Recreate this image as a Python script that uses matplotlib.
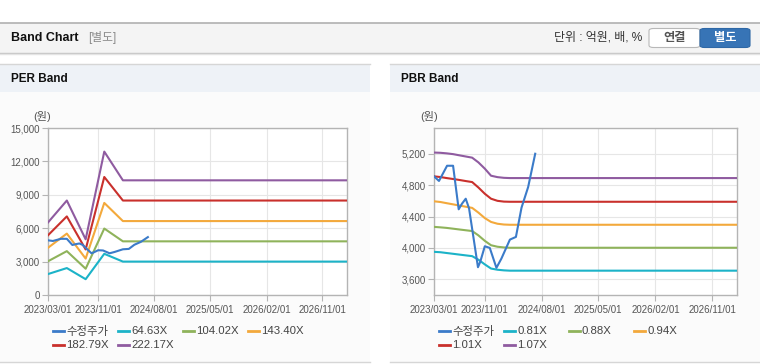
import datetime as dt
import matplotlib
matplotlib.use("Agg")
import matplotlib.pyplot as plt
import matplotlib.dates as mdates
from matplotlib.patches import Rectangle, FancyBboxPatch
from matplotlib.lines import Line2D

plt.rcParams['font.family'] = ['Liberation Sans', 'Noto Sans CJK KR']

def d(s):
    return dt.datetime.strptime(s, "%Y-%m-%d")

# ---- data ----
price_dates = ["2023-03-01", "2023-03-25", "2023-05-03", "2023-06-01", "2023-06-28",
               "2023-07-14", "2023-08-01", "2023-08-17", "2023-09-29", "2023-10-10",
               "2023-11-01", "2023-11-25", "2023-12-27", "2024-01-20", "2024-03-01",
               "2024-03-30", "2024-04-26", "2024-05-28", "2024-07-01"]
price = [4912, 4853, 5047, 5047, 4492, 4564, 4627, 4504, 3754, 3823,
         4021, 4000, 3746, 3864, 4106, 4140, 4513, 4776, 5200]

per_dates = ["2023-03-01", "2023-06-01", "2023-09-01", "2023-12-01", "2024-03-01", "2027-03-01"]
per_labels = ["64.63X", "104.02X", "143.40X", "182.79X", "222.17X"]
per_6463 = [1880, 2420, 1420, 3700, 3000, 3000]
per_10402 = [3030, 3940, 2360, 5970, 4820, 4820]
per_14340 = [4240, 5515, 3270, 8270, 6640, 6640]
per_18279 = [5364, 7060, 4090, 10600, 8485, 8485]
per_22217 = [6515, 8485, 5000, 12880, 10300, 10300]

pbr_dates = ["2023-03-01", "2023-04-01", "2023-05-01", "2023-06-01", "2023-07-01",
             "2023-08-01", "2023-09-01", "2023-10-01", "2023-11-01", "2023-12-01",
             "2024-01-01", "2024-02-01", "2024-03-01", "2027-03-01"]
pbr_labels = ["0.81X", "0.88X", "0.94X", "1.01X", "1.07X"]
pbr_081 = [3950, 3945, 3935, 3925, 3915, 3905, 3895, 3850, 3790, 3737, 3722, 3714, 3710, 3710]
pbr_088 = [4268, 4262, 4255, 4245, 4235, 4225, 4215, 4160, 4090, 4034, 4015, 4006, 4002, 4002]
pbr_094 = [4594, 4585, 4570, 4555, 4540, 4525, 4510, 4450, 4380, 4331, 4308, 4298, 4295, 4295]
pbr_101 = [4912, 4903, 4890, 4878, 4866, 4852, 4839, 4770, 4690, 4627, 4600, 4590, 4588, 4588]
pbr_107 = [5215, 5212, 5205, 5195, 5180, 5165, 5150, 5090, 5010, 4920, 4902, 4893, 4890, 4890]

price_label = "수정주가"
band_colors = ["#1cb3c8", "#8fb35b", "#f3a93c", "#c9302c", "#8f5ba0"]
price_color = "#3b7bc9"

x_ticks = ["2023-03-01", "2023-11-01", "2024-08-01", "2025-05-01", "2026-02-01", "2026-11-01"]
per_yticks = [0, 3000, 6000, 9000, 12000, 15000]
pbr_yticks = [3600, 4000, 4400, 4800, 5200]

W, H = 760, 364
fig = plt.figure(figsize=(W / 100, H / 100), dpi=100)

def fx(x):
    return x / W

def fy(y):
    return 1 - y / H

def rect(x0, y0, x1, y1, color, z=0):
    fig.add_artist(Rectangle((fx(x0), fy(y1)), (x1 - x0) / W, (y1 - y0) / H,
                             transform=fig.transFigure, facecolor=color,
                             edgecolor="none", zorder=z))

def hline(x0, x1, y, color, lw=1.0):
    fig.add_artist(Line2D([fx(x0), fx(x1)], [fy(y), fy(y)], transform=fig.transFigure,
                          color=color, lw=lw))

# top header bar
hline(0, 760, 22.5, "#b0b0b0", 1.2)
rect(0, 23, 760, 53, "#f4f4f4")
hline(0, 760, 53.2, "#c4c4c4", 1.0)
hline(0, 760, 54.4, "#e4e4e4", 1.0)
fig.text(fx(11), fy(38), "Band Chart", fontsize=9, fontweight="bold", color="#111",
         va="center", ha="left")
fig.text(fx(88), fy(38), "[별도]", fontsize=8.5, color="#8a8a8a", va="center", ha="left")
fig.text(fx(642), fy(38), "단위 : 억원, 배, %", fontsize=8.6, color="#333",
         va="center", ha="right")
fig.add_artist(FancyBboxPatch((fx(649), fy(47.5)), 51 / W, 19 / H,
                              boxstyle="round,pad=0,rounding_size=0.006",
                              transform=fig.transFigure, facecolor="white",
                              edgecolor="#b8b8b8", lw=0.8))
fig.add_artist(FancyBboxPatch((fx(700), fy(47.5)), 50 / W, 19 / H,
                              boxstyle="round,pad=0,rounding_size=0.006",
                              transform=fig.transFigure, facecolor="#3774b6",
                              edgecolor="#2f68a6", lw=0.8))
fig.text(fx(674.5), fy(38), "연결", fontsize=8.8, fontweight="bold", color="#555",
         va="center", ha="center")
fig.text(fx(725), fy(38), "별도", fontsize=8.8, fontweight="bold", color="white",
         va="center", ha="center")

# panels
for x0, x1, title in [(0, 370, "PER Band"), (390, 760, "PBR Band")]:
    hline(x0, x1, 63.8, "#d6d6d6", 1.0)
    rect(x0, 64, x1, 92, "#eef2f7")
    rect(x0, 92, x1, 362, "#fbfbfb")
    hline(x0, x1, 362, "#d6d6d6", 1.0)
    fig.text(fx(x0 + 11), fy(79), title, fontsize=8.5, fontweight="bold", color="#111",
             va="center", ha="left")


def band_axes(left, right, dates, bands, labels, yticks, ylim, ylab_x):
    ax = fig.add_axes([fx(left), fy(295), (right - left) / W, (295 - 128) / H])
    ax.set_facecolor("white")
    xs = [d(s) for s in dates]
    ax.plot([d(s) for s in price_dates], price, color=price_color, lw=1.5, zorder=5)
    for vals, c in zip(bands, band_colors):
        ax.plot(xs, vals, color=c, lw=1.5, zorder=3)
    ax.set_xlim(d("2023-03-01"), d("2027-03-01"))
    ax.set_ylim(*ylim)
    ax.set_xticks([d(s) for s in x_ticks])
    ax.xaxis.set_major_formatter(mdates.DateFormatter("%Y/%m/%d"))
    ax.set_yticks(yticks)
    ax.set_yticklabels(["{:,}".format(v) for v in yticks])
    ax.grid(True, color="#e6e6e6", lw=0.8)
    ax.set_axisbelow(True)
    for sp in ax.spines.values():
        sp.set_color("#b4b4b4")
        sp.set_linewidth(1.0)
    ax.tick_params(axis="both", colors="#b4b4b4", labelcolor="#555", labelsize=7,
                   length=4, width=0.8, pad=2)
    ax.tick_params(axis="x", pad=3)
    fig.text(fx(ylab_x), fy(117), "(원)", fontsize=8, color="#555", ha="center", va="center")

    # legend, drawn by hand in two rows of four columns
    names = [price_label] + labels
    cols = [price_color] + band_colors
    for i, (n, c) in enumerate(zip(names, cols)):
        row, col = divmod(i, 4)
        lx = left + 5 + col * 65
        ly = 331 + row * 13.5
        fig.add_artist(Line2D([fx(lx), fx(lx + 11)], [fy(ly), fy(ly)],
                              transform=fig.transFigure, color=c, lw=2))
        fig.text(fx(lx + 13), fy(ly), n, fontsize=8.2, color="#444", va="center", ha="left")
    return ax


band_axes(48, 347, per_dates, [per_6463, per_10402, per_14340, per_18279, per_22217],
          per_labels, per_yticks, (0, 15000), 42)
band_axes(434, 737, pbr_dates, [pbr_081, pbr_088, pbr_094, pbr_101, pbr_107],
          pbr_labels, pbr_yticks, (3400, 5528), 429)

fig.savefig("out.png", dpi=100)
